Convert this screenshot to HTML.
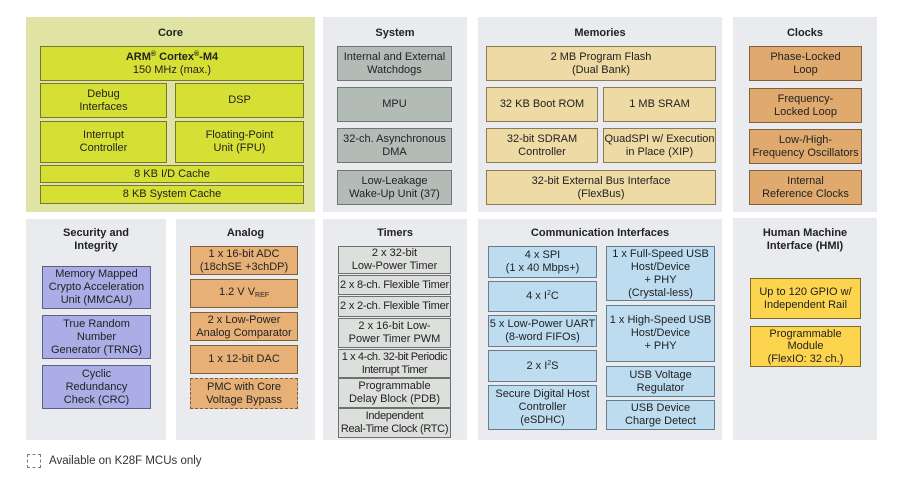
<!DOCTYPE html>
<html><head><meta charset="utf-8"><style>
body{margin:0;width:900px;height:480px;background:#fff;position:relative;font-family:"Liberation Sans",sans-serif;font-size:11px;color:#222;overflow:hidden}
.p{position:absolute;background:#e9ebee}
.t{position:absolute;font-weight:bold;text-align:center;line-height:13px;font-size:11px}
.b{position:absolute;box-sizing:border-box;border:1px solid #6a6a5a;display:flex;align-items:center;justify-content:center;text-align:center;line-height:13px;font-size:11px}
.c{background:#d6df34;border-color:#77772e}
.s{background:#b3bbb7;border-color:#6e7572}
.m{background:#eedaa5;border-color:#8a7b55}
.k{background:#e0aa6e;border-color:#7f5f3c}
.se{background:#abaee6;border-color:#5e5f86}
.a{background:#e6b077;border-color:#7f5f3c}
.ti{background:#dcdfdc;border-color:#6e706e}
.co{background:#bddcf0;border-color:#667d8c}
.h{background:#fcd44e;border-color:#7f6a2a}
sub{font-size:7px;vertical-align:-2px}
sup{font-size:7px;vertical-align:4px;line-height:0}
</style></head><body>
<div class="p" style="left:26px;top:17px;width:289px;height:195px;background:#dfe4a4"></div>
<div class="p" style="left:323px;top:17px;width:144px;height:195px"></div>
<div class="p" style="left:478px;top:17px;width:244px;height:195px"></div>
<div class="p" style="left:733px;top:17px;width:144px;height:195px"></div>
<div class="p" style="left:26px;top:219px;width:140px;height:221px"></div>
<div class="p" style="left:176px;top:219px;width:139px;height:221px"></div>
<div class="p" style="left:323px;top:219px;width:144px;height:221px"></div>
<div class="p" style="left:478px;top:219px;width:244px;height:221px"></div>
<div class="p" style="left:733px;top:218px;width:144px;height:222px"></div>

<div class="t" style="left:26px;width:289px;top:27px">Core</div>
<div class="t" style="left:323px;width:144px;top:27px">System</div>
<div class="t" style="left:478px;width:244px;top:27px">Memories</div>
<div class="t" style="left:733px;width:144px;top:27px">Clocks</div>
<div class="t" style="left:26px;width:140px;top:227px">Security and<br>Integrity</div>
<div class="t" style="left:176px;width:139px;top:227px">Analog</div>
<div class="t" style="left:323px;width:144px;top:227px">Timers</div>
<div class="t" style="left:478px;width:244px;top:227px">Communication Interfaces</div>
<div class="t" style="left:733px;width:144px;top:227px">Human Machine<br>Interface (HMI)</div>

<div class="b c" style="left:40px;top:46px;width:264px;height:35px"><span><b>ARM<sup>®</sup> Cortex<sup>®</sup>-M4</b><br>150 MHz (max.)</span></div>
<div class="b c" style="left:40px;top:83px;width:127px;height:35px">Debug<br>Interfaces</div>
<div class="b c" style="left:175px;top:83px;width:129px;height:35px">DSP</div>
<div class="b c" style="left:40px;top:121px;width:127px;height:42px">Interrupt<br>Controller</div>
<div class="b c" style="left:175px;top:121px;width:129px;height:42px">Floating-Point<br>Unit (FPU)</div>
<div class="b c" style="left:40px;top:165px;width:264px;height:18px">8 KB I/D Cache</div>
<div class="b c" style="left:40px;top:185px;width:264px;height:19px">8 KB System Cache</div>

<div class="b s" style="left:337px;top:46px;width:115px;height:35px">Internal and External<br>Watchdogs</div>
<div class="b s" style="left:337px;top:87px;width:115px;height:35px">MPU</div>
<div class="b s" style="left:337px;top:128px;width:115px;height:35px">32-ch. Asynchronous<br>DMA</div>
<div class="b s" style="left:337px;top:170px;width:115px;height:35px">Low-Leakage<br>Wake-Up Unit (37)</div>

<div class="b m" style="left:486px;top:46px;width:230px;height:35px">2 MB Program Flash<br>(Dual Bank)</div>
<div class="b m" style="left:486px;top:87px;width:112px;height:35px">32 KB Boot ROM</div>
<div class="b m" style="left:603px;top:87px;width:113px;height:35px">1 MB SRAM</div>
<div class="b m" style="left:486px;top:128px;width:112px;height:35px">32-bit SDRAM<br>Controller</div>
<div class="b m" style="left:603px;top:128px;width:113px;height:35px">QuadSPI w/ Execution<br>in Place (XIP)</div>
<div class="b m" style="left:486px;top:170px;width:230px;height:35px">32-bit External Bus Interface<br>(FlexBus)</div>

<div class="b k" style="left:749px;top:46px;width:113px;height:35px">Phase-Locked<br>Loop</div>
<div class="b k" style="left:749px;top:88px;width:113px;height:35px">Frequency-<br>Locked Loop</div>
<div class="b k" style="left:749px;top:129px;width:113px;height:35px">Low-/High-<br>Frequency Oscillators</div>
<div class="b k" style="left:749px;top:170px;width:113px;height:35px">Internal<br>Reference Clocks</div>

<div class="b se" style="left:42px;top:266px;width:109px;height:43px">Memory Mapped<br>Crypto Acceleration<br>Unit (MMCAU)</div>
<div class="b se" style="left:42px;top:315px;width:109px;height:44px">True Random<br>Number<br>Generator (TRNG)</div>
<div class="b se" style="left:42px;top:365px;width:109px;height:44px">Cyclic<br>Redundancy<br>Check (CRC)</div>

<div class="b a" style="left:190px;top:246px;width:108px;height:29px">1 x 16-bit ADC<br>(18chSE +3chDP)</div>
<div class="b a" style="left:190px;top:279px;width:108px;height:29px"><span>1.2 V V<sub>REF</sub></span></div>
<div class="b a" style="left:190px;top:312px;width:108px;height:29px">2 x Low-Power<br>Analog Comparator</div>
<div class="b a" style="left:190px;top:345px;width:108px;height:29px">1 x 12-bit DAC</div>
<div class="b a" style="left:190px;top:378px;width:108px;height:31px;border:1.5px dashed #7f5f3c">PMC with Core<br>Voltage Bypass</div>

<div class="b ti" style="left:338px;top:246px;width:113px;height:28px">2 x 32-bit<br>Low-Power Timer</div>
<div class="b ti" style="left:338px;top:275px;width:113px;height:20px;letter-spacing:-0.2px">2 x 8-ch. Flexible Timer</div>
<div class="b ti" style="left:338px;top:296px;width:113px;height:21px;letter-spacing:-0.2px">2 x 2-ch. Flexible Timer</div>
<div class="b ti" style="left:338px;top:318px;width:113px;height:30px">2 x 16-bit Low-<br>Power Timer PWM</div>
<div class="b ti" style="left:338px;top:349px;width:113px;height:29px;letter-spacing:-0.4px">1 x 4-ch. 32-bit Periodic<br>Interrupt Timer</div>
<div class="b ti" style="left:338px;top:378px;width:113px;height:30px">Programmable<br>Delay Block (PDB)</div>
<div class="b ti" style="left:338px;top:408px;width:113px;height:30px;letter-spacing:-0.3px">Independent<br>Real-Time Clock (RTC)</div>

<div class="b co" style="left:488px;top:246px;width:109px;height:32px">4 x SPI<br>(1 x 40 Mbps+)</div>
<div class="b co" style="left:488px;top:281px;width:109px;height:31px"><span>4 x I<sup>2</sup>C</span></div>
<div class="b co" style="left:488px;top:315px;width:109px;height:32px">5 x Low-Power UART<br>(8-word FIFOs)</div>
<div class="b co" style="left:488px;top:350px;width:109px;height:32px"><span>2 x I<sup>2</sup>S</span></div>
<div class="b co" style="left:488px;top:385px;width:109px;height:45px">Secure Digital Host<br>Controller<br>(eSDHC)</div>
<div class="b co" style="left:606px;top:246px;width:109px;height:55px">1 x Full-Speed USB<br>Host/Device<br>+ PHY<br>(Crystal-less)</div>
<div class="b co" style="left:606px;top:305px;width:109px;height:57px">1 x High-Speed USB<br>Host/Device<br>+ PHY</div>
<div class="b co" style="left:606px;top:366px;width:109px;height:31px">USB Voltage<br>Regulator</div>
<div class="b co" style="left:606px;top:400px;width:109px;height:30px">USB Device<br>Charge Detect</div>

<div class="b h" style="left:750px;top:278px;width:111px;height:41px">Up to 120 GPIO w/<br>Independent Rail</div>
<div class="b h" style="left:750px;top:326px;width:111px;height:41px;line-height:12.5px">Programmable<br>Module<br>(FlexIO: 32 ch.)</div>

<div style="position:absolute;left:27px;top:454px;width:14px;height:14px;box-sizing:border-box;border:1.5px dashed #777"></div>
<div style="position:absolute;left:49px;top:455px;font-size:11.5px;color:#333">Available on K28F MCUs only</div>
</body></html>
